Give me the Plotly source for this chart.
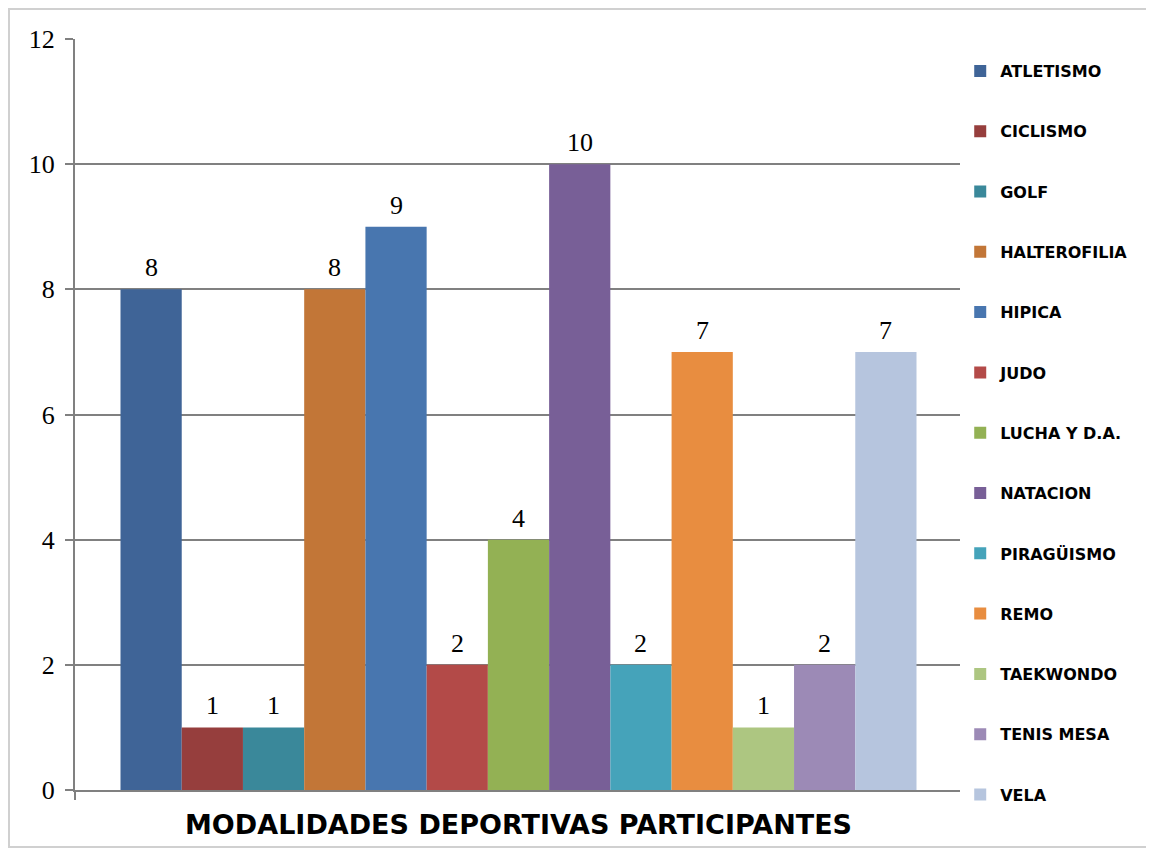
import plotly.graph_objects as go

# Datos
modalidades = ["ATLETISMO", "CICLISMO", "GOLF", "HALTEROFILIA", "HIPICA", "JUDO",
               "LUCHA Y D.A.", "NATACION", "PIRAGÜISMO", "REMO", "TAEKWONDO",
               "TENIS MESA", "VELA"]
participantes = [8, 1, 1, 8, 9, 2, 4, 10, 2, 7, 1, 2, 7]
colores = ["#3F6497", "#963E3D", "#3A889A", "#C27637", "#4876AF", "#B34A48",
           "#93B154", "#785F97", "#45A3BA", "#E88D40", "#ADC681", "#9C8AB6",
           "#B6C5DE"]
titulo = "MODALIDADES DEPORTIVAS PARTICIPANTES"

# rango del eje x: barras contiguas con un margen a cada lado
x_rango = [-1.243, len(modalidades) - 1 + 1.243]

fig = go.Figure()
for i, (nombre, valor, color) in enumerate(zip(modalidades, participantes, colores)):
    fig.add_trace(go.Bar(
        x=[i], y=[valor], width=1, name=nombre, legendgroup=nombre,
        marker_color=color, marker_line_width=0,
    ))
    # etiqueta de valor sobre la barra
    fig.add_annotation(x=i, y=valor, text=str(valor), showarrow=False,
                       yanchor="bottom", yshift=5,
                       font=dict(family="Liberation Serif", size=26, color="black"))

# Marco exterior del gráfico
fig.add_shape(type="rect", xref="paper", yref="paper",
              x0=-0.0744, x1=1.2108, y0=-0.0759, y1=1.040,
              line=dict(color="#D0D0D0", width=2), layer="below")

fig.add_annotation(text="<b>" + titulo + "</b>", xref="paper", yref="paper",
                   x=0.5, y=-0.0466, showarrow=False, yanchor="middle",
                   font=dict(family="DejaVu Sans", size=27, color="black"))

fig.update_layout(
    width=1154, height=852,
    margin=dict(l=67, r=200, t=31, b=70),
    paper_bgcolor="white", plot_bgcolor="white",
    barmode="overlay",
    showlegend=True,
    legend=dict(x=0.998, y=0.98, xanchor="left", yanchor="top",
                tracegroupgap=36.5, traceorder="grouped", maxheight=1000,
                font=dict(family="DejaVu Sans", size=16, color="black", weight="bold")),
    xaxis=dict(range=x_rango, tickvals=x_rango, showline=True,
               linecolor="#808080", linewidth=2, ticks="outside", ticklen=8,
               tickcolor="#808080", tickwidth=2, showticklabels=False,
               showgrid=False, zeroline=False),
    yaxis=dict(range=[0, 12], dtick=2, showline=True, linecolor="#808080",
               linewidth=2, ticks="outside", ticklen=8, tickcolor="#808080",
               tickwidth=2, showgrid=True, gridcolor="#808080", gridwidth=2,
               zeroline=False, ticklabelstandoff=5,
               tickfont=dict(family="Liberation Serif", size=26, color="black")),
)

fig.write_html("out.html")
